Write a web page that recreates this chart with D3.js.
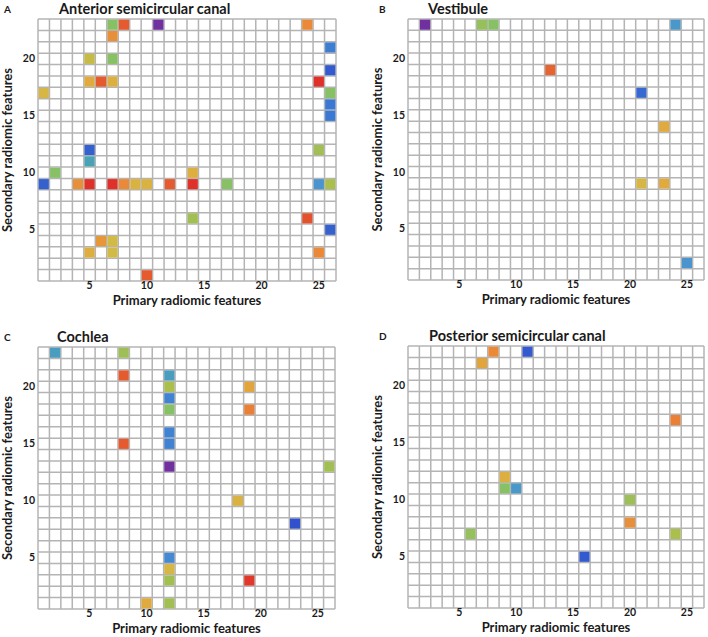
<!DOCTYPE html>
<html>
<head>
<meta charset="utf-8">
<script src="https://cdn.jsdelivr.net/npm/d3@7"></script>
<style>
  body { margin: 0; background: #fff; }
  svg { display: block; font-family: Lato, "Open Sans", sans-serif; }
</style>
</head>
<body>
<svg width="708" height="637"></svg>
<script>
const GRID_COLOR = '#b4b4b4';
const TEXT_COLOR = '#1a1a1a';

const primaryFeatures = d3.range(1, 27);    // columns
const secondaryFeatures = d3.range(1, 24);  // rows
const xTicks = [5, 10, 15, 20, 25];
const yTicks = [5, 10, 15, 20];

// colour key: 0 = purple ... 1 = red
const colorStops = [0, 0.1, 0.2, 0.3, 0.38, 0.47, 0.55, 0.62, 0.7, 0.8, 0.9, 1];
const colorRange = ['#7030a0', '#3152cc', '#3a78d4', '#4a94cf', '#4aa2b6', '#88c066',
    '#aabf4c', '#d2ba46', '#e0aa3e', '#ea8a38', '#e55a2e', '#e0302a'];

// [primary, secondary, value]
const anteriorCells = [
    [7, 23, 0.47], [8, 23, 0.9], [11, 23, 0], [24, 23, 0.8],
    [7, 22, 0.78],
    [26, 21, 0.22],
    [5, 20, 0.6], [7, 20, 0.47],
    [26, 19, 0.12],
    [5, 18, 0.7], [6, 18, 0.9], [7, 18, 0.68], [25, 18, 1],
    [1, 17, 0.64], [26, 17, 0.47],
    [26, 16, 0.2], [26, 15, 0.2],
    [5, 12, 0.14], [25, 12, 0.53],
    [5, 11, 0.38],
    [2, 10, 0.47], [14, 10, 0.68],
    [1, 9, 0.14], [4, 9, 0.78], [5, 9, 1], [7, 9, 1], [8, 9, 0.8], [9, 9, 0.66],
    [10, 9, 0.66], [12, 9, 0.9], [14, 9, 1], [17, 9, 0.47], [25, 9, 0.3], [26, 9, 0.55],
    [14, 6, 0.53], [24, 6, 0.92],
    [26, 5, 0.14],
    [6, 4, 0.76], [7, 4, 0.62],
    [5, 3, 0.68], [7, 3, 0.62], [25, 3, 0.8],
    [10, 1, 0.9]
];
const vestibuleCells = [
    [2, 23, 0], [7, 23, 0.5], [8, 23, 0.47], [24, 23, 0.32],
    [13, 19, 0.88],
    [21, 17, 0.16],
    [23, 14, 0.7],
    [21, 9, 0.64], [23, 9, 0.7],
    [25, 2, 0.3]
];
const cochleaCells = [
    [2, 23, 0.35], [8, 23, 0.52],
    [8, 21, 0.9], [12, 21, 0.35],
    [12, 20, 0.55], [19, 20, 0.72],
    [12, 19, 0.24],
    [12, 18, 0.47], [19, 18, 0.82],
    [12, 16, 0.24],
    [8, 15, 0.9], [12, 15, 0.24],
    [12, 13, 0], [26, 13, 0.53],
    [18, 10, 0.66],
    [23, 8, 0.1],
    [12, 5, 0.26], [12, 4, 0.64], [12, 3, 0.53], [19, 3, 0.98],
    [10, 1, 0.7], [12, 1, 0.53]
];
const posteriorCells = [
    [8, 23, 0.8], [11, 23, 0.12],
    [7, 22, 0.72],
    [24, 17, 0.82],
    [9, 12, 0.68],
    [9, 11, 0.47], [10, 11, 0.32],
    [20, 10, 0.52],
    [20, 8, 0.78],
    [6, 7, 0.5], [24, 7, 0.55],
    [16, 5, 0.12]
];

const panels = [
    { letter: 'A', title: 'Anterior semicircular canal', cells: anteriorCells,
      ox: 0, oy: 0, left: 38, right: 336, top: 19, bottom: 281, letterX: 4, titleX: 59 },
    { letter: 'B', title: 'Vestibule', cells: vestibuleCells,
      ox: 354, oy: 0, left: 54, right: 350, top: 19, bottom: 280, letterX: 25, titleX: 74 },
    { letter: 'C', title: 'Cochlea', cells: cochleaCells,
      ox: 0, oy: 318, left: 38, right: 335, top: 29, bottom: 291, letterX: 4, titleX: 57 },
    { letter: 'D', title: 'Posterior semicircular canal', cells: posteriorCells,
      ox: 354, oy: 318, left: 54, right: 350, top: 28, bottom: 290, letterX: 25, titleX: 75 }
];

const color = d3.scaleLinear().domain(colorStops).range(colorRange);

var svg = d3.select('svg');

panels.forEach(p => {
    var g = svg.append('g')
        .attr('transform', 'translate(' + p.ox + ',' + p.oy + ')');

    var x = d3.scaleBand()
        .domain(primaryFeatures)
        .range([p.left, p.right]);

    var y = d3.scaleBand()
        .domain(secondaryFeatures)
        .range([p.bottom, p.top]);

    /* grid */
    var grid = g.append('g')
        .attr('stroke', GRID_COLOR)
        .attr('stroke-width', 1.5);
    primaryFeatures.concat([27]).forEach((d, i) => {
        var xx = i < 26 ? x(d) : p.right;
        grid.append('line')
            .attr('x1', xx).attr('x2', xx)
            .attr('y1', p.top).attr('y2', p.bottom);
    });
    secondaryFeatures.concat([24]).forEach((d, i) => {
        var yy = i < 23 ? y(d) + y.bandwidth() : p.top;
        grid.append('line')
            .attr('x1', p.left).attr('x2', p.right)
            .attr('y1', yy).attr('y2', yy);
    });

    /* coloured cells */
    g.selectAll('rect.cell')
        .data(p.cells)
        .enter().append('rect')
        .attr('class', 'cell')
        .attr('x', d => x(d[0]) + 0.6)
        .attr('y', d => y(d[1]) + 0.6)
        .attr('width', x.bandwidth() - 1.2)
        .attr('height', y.bandwidth() - 1.2)
        .attr('fill', d => color(d[2]));

    /* axes */
    var xAxis = g.append('g')
        .attr('transform', 'translate(0,' + p.bottom + ')')
        .call(d3.axisBottom(x).tickValues(xTicks).tickSize(0).tickPadding(1));
    var yAxis = g.append('g')
        .attr('transform', 'translate(' + p.left + ',0)')
        .call(d3.axisLeft(y).tickValues(yTicks).tickSize(0).tickPadding(3));
    [xAxis, yAxis].forEach(a => {
        a.select('.domain').remove();
        a.selectAll('text')
            .attr('fill', TEXT_COLOR)
            .style('font-family', 'Lato, sans-serif')
            .style('font-size', '10.5px')
            .style('font-weight', 'bold');
    });

    /* labels */
    g.append('text')
        .attr('x', (p.left + p.right) / 2)
        .attr('y', p.bottom + 23.5)
        .attr('text-anchor', 'middle')
        .attr('fill', TEXT_COLOR)
        .style('font-size', '13px')
        .style('font-weight', 'bold')
        .text('Primary radiomic features');

    g.append('text')
        .attr('transform', 'translate(' + (p.left - 26) + ',' + ((p.top + p.bottom) / 2) + ') rotate(-90)')
        .attr('text-anchor', 'middle')
        .attr('fill', TEXT_COLOR)
        .style('font-size', '13px')
        .style('font-weight', 'bold')
        .text('Secondary radiomic features');

    g.append('text')
        .attr('x', p.letterX)
        .attr('y', p.top - 6)
        .attr('fill', TEXT_COLOR)
        .style('font-size', '10px')
        .style('font-weight', 'bold')
        .text(p.letter);

    g.append('text')
        .attr('x', p.titleX)
        .attr('y', p.top - 5)
        .attr('fill', TEXT_COLOR)
        .style('font-size', '14.5px')
        .style('font-weight', 'bold')
        .text(p.title);
});
</script>
</body>
</html>
